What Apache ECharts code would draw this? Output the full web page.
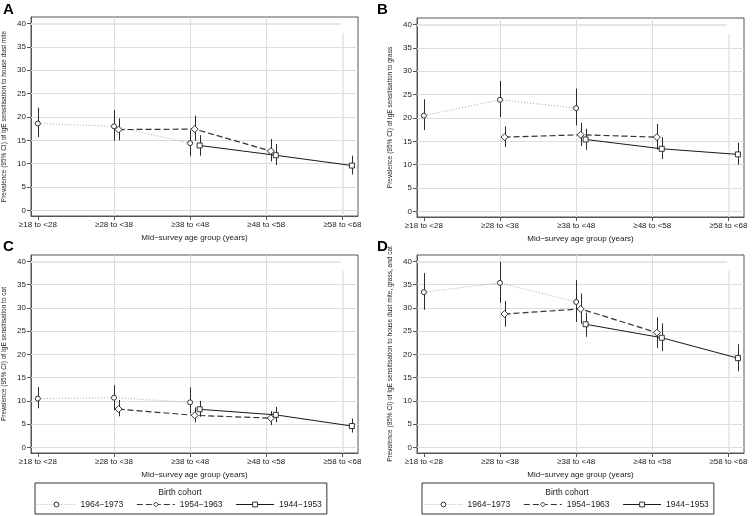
<!DOCTYPE html>
<html>
<head>
<meta charset="utf-8">
<script src="https://cdn.jsdelivr.net/npm/echarts@6/dist/echarts.min.js"></script>
<style>html,body{margin:0;padding:0;background:#fff}#c{width:753px;height:516px}</style>
</head>
<body>
<div id="c"></div>
<script>
// ---- data ----
const ageLabels = ['\u226518 to <28', '\u226528 to <38', '\u226538 to <48', '\u226548 to <58', '\u226558 to <68'];
const ageMid = [23, 33, 43, 53, 63];
const cohorts = ['1964\u22121973', '1954\u22121963', '1944\u22121953'];
// mean ages at which each cohort was plotted
const x1964 = [23, 33, 43];
const x1954 = [33.6, 43.6, 53.6];
const x1944 = [44.25, 54.25, 64.25];
const yTicks = [0, 5, 10, 15, 20, 25, 30, 35, 40];

// A: house dust mite
const hdm1964 = [18.6, 18.0, 14.4], hdm1964Lo = [15.7, 14.9, 11.6], hdm1964Hi = [22.0, 21.5, 17.2];
const hdm1954 = [17.3, 17.4, 12.7], hdm1954Lo = [15.0, 14.9, 10.5], hdm1954Hi = [19.7, 20.3, 15.3];
const hdm1944 = [13.9, 11.8, 9.6],  hdm1944Lo = [11.7, 9.7, 7.7],   hdm1944Hi = [16.1, 14.2, 11.7];
// B: grass
const gr1964 = [20.5, 23.9, 22.1], gr1964Lo = [17.4, 20.2, 18.4], gr1964Hi = [24.0, 27.9, 26.3];
const gr1954 = [15.9, 16.4, 15.9], gr1954Lo = [13.8, 14.0, 13.2], gr1954Hi = [18.2, 19.0, 18.7];
const gr1944 = [15.4, 13.4, 12.2], gr1944Lo = [13.2, 11.2, 10.0], gr1944Hi = [17.7, 15.9, 14.7];
// C: cat
const cat1964 = [10.5, 10.7, 9.7], cat1964Lo = [8.4, 8.0, 7.3], cat1964Hi = [13.0, 13.4, 12.9];
const cat1954 = [8.25, 6.9, 6.3],  cat1954Lo = [6.7, 5.4, 4.8], cat1954Hi = [10.2, 8.6, 7.8];
const cat1944 = [8.2, 7.0, 4.6],   cat1944Lo = [6.6, 5.4, 3.2], cat1944Hi = [10.0, 8.7, 6.2];
// D: any of the three
const any1964 = [33.4, 35.4, 31.3], any1964Lo = [29.6, 31.1, 27.0], any1964Hi = [37.5, 39.9, 36.0];
const any1954 = [28.7, 29.8, 24.7], any1954Lo = [26.0, 26.6, 21.4], any1954Hi = [31.5, 33.1, 28.0];
const any1944 = [26.5, 23.6, 19.2], any1944Lo = [23.8, 20.7, 16.4], any1944Hi = [29.0, 26.7, 22.2];

const yTitles = [
  'Prevalence (95% CI) of IgE sensitisation to house dust mite',
  'Prevalence (95% CI) of IgE sensitisation to grass',
  'Prevalence (95% CI) of IgE sensitisation to cat',
  'Prevalence (95% CI) of IgE sensitisation to house dust mite, grass, and cat'
];
const xTitle = 'Mid\u2212survey age group (years)';
const panelLetters = ['A', 'B', 'C', 'D'];
const legendTitle = 'Birth cohort';

const panels = [
  [[hdm1964, hdm1964Lo, hdm1964Hi], [hdm1954, hdm1954Lo, hdm1954Hi], [hdm1944, hdm1944Lo, hdm1944Hi]],
  [[gr1964, gr1964Lo, gr1964Hi], [gr1954, gr1954Lo, gr1954Hi], [gr1944, gr1944Lo, gr1944Hi]],
  [[cat1964, cat1964Lo, cat1964Hi], [cat1954, cat1954Lo, cat1954Hi], [cat1944, cat1944Lo, cat1944Hi]],
  [[any1964, any1964Lo, any1964Hi], [any1954, any1954Lo, any1954Hi], [any1944, any1944Lo, any1944Hi]]
];
const xs = [x1964, x1954, x1944];

// ---- layout / style ----
const FONT = 'Liberation Sans, Arial, sans-serif';
const xMin = 22.1, xMax = 65.05, yMin = -1.2, yMax = 41.4;
const grids = [
  {left: 29, top: 17, width: 329, height: 199},
  {left: 417, top: 18, width: 327, height: 199},
  {left: 29, top: 255, width: 329, height: 198},
  {left: 417, top: 255, width: 327, height: 198}
];
const styles = [
  {line: {color: '#a8a8a8', width: 1, type: [1, 2]}, symbol: 'circle', size: 5},
  {line: {color: '#333', width: 1.2, type: [6, 3]}, symbol: 'diamond', size: 7},
  {line: {color: '#1a1a1a', width: 1, type: 'solid'}, symbol: 'rect', size: 5}
];

const xAxes = [], yAxes = [], series = [];
grids.forEach((g, gi) => {
  xAxes.push({
    type: 'value', gridIndex: gi, min: xMin, max: xMax,
    name: xTitle, nameLocation: 'middle', nameGap: 18,
    nameTextStyle: {fontSize: 8, color: '#222', fontFamily: FONT},
    axisLine: {show: true, onZero: false, lineStyle: {color: '#555', width: 1}},
    axisTick: {show: true, length: 4, customValues: ageMid, lineStyle: {color: '#555'}},
    axisLabel: {customValues: ageMid, margin: 5, fontSize: 8, color: '#222', fontFamily: FONT,
      formatter: v => ageLabels[ageMid.indexOf(Math.round(v))] || ''},
    splitLine: {show: false}
  });
  yAxes.push({
    type: 'value', gridIndex: gi, min: yMin, max: yMax,
    name: yTitles[gi], nameLocation: 'middle', nameGap: 23,
    nameTextStyle: {fontSize: 6.5, color: '#222', fontFamily: FONT},
    axisLine: {show: true, onZero: false, lineStyle: {color: '#555', width: 1}},
    axisTick: {show: true, length: 4, customValues: yTicks, lineStyle: {color: '#555'}},
    axisLabel: {customValues: yTicks, margin: 5, fontSize: 8, color: '#222', fontFamily: FONT},
    splitLine: {show: false}
  });
  // gridlines
  const ml = [];
  yTicks.forEach(v => {
    if (v === 40) ml.push([{coord: [xMin, v], lineStyle: {width: 2, color: '#e6e6e6'}}, {coord: [62.8, v]}]);
    else ml.push([{coord: [xMin, v]}, {coord: [xMax, v]}]);
  });
  ageMid.slice(1).forEach(v => {
    if (v === 63) ml.push([{coord: [v, yMin], lineStyle: {width: 1.5, color: '#e3e3e3'}}, {coord: [v, 38]}]);
    else ml.push([{coord: [v, yMin]}, {coord: [v, yMax]}]);
  });
  series.push({
    type: 'line', xAxisIndex: gi, yAxisIndex: gi, data: [], silent: true, z: 1,
    markLine: {z: 1, silent: true, symbol: 'none', animation: false, label: {show: false},
      lineStyle: {color: '#dcdcdc', width: 1, type: 'solid'}, data: ml}
  });
  panels[gi].forEach((cs, ci) => {
    const [vals, lo, hi] = cs;
    series.push({
      type: 'custom', name: 'ci' + ci, xAxisIndex: gi, yAxisIndex: gi, z: 3,
      data: xs[ci].map((x, i) => [x, lo[i], hi[i]]),
      encode: {x: 0, y: [1, 2]},
      renderItem: (params, api) => {
        const a = api.coord([api.value(0), api.value(1)]);
        const b = api.coord([api.value(0), api.value(2)]);
        const px = Math.round(a[0]) + 0.5;
        return {type: 'line', shape: {x1: px, y1: a[1], x2: px, y2: b[1]},
          style: {stroke: '#2a2a2a', lineWidth: 1}};
      }
    });
    series.push({
      type: 'line', name: cohorts[ci], xAxisIndex: gi, yAxisIndex: gi, z: 4,
      data: xs[ci].map((x, i) => [x, vals[i]]),
      symbol: styles[ci].symbol, symbolSize: styles[ci].size, showAllSymbol: true,
      lineStyle: styles[ci].line,
      itemStyle: {color: '#fff', borderColor: '#333', borderWidth: 1},
      emphasis: {disabled: true}
    });
  });
});

const legendBase = {
  data: cohorts, top: 483, orient: 'horizontal',
  itemWidth: 38, itemHeight: 6, itemGap: 13,
  padding: [17, 5, 5, 2],
  borderColor: '#333', borderWidth: 1,
  lineStyle: {width: 1},
  itemStyle: {borderWidth: 1},
  textStyle: {fontSize: 8.5, color: '#222', fontFamily: FONT},
  selectedMode: false
};

const chart = echarts.init(document.getElementById('c'), null, {renderer: 'canvas'});
chart.setOption({
  animation: false,
  backgroundColor: '#fff',
  grid: grids.map(g => Object.assign({show: true, borderColor: '#555', borderWidth: 1, backgroundColor: 'transparent'}, g)),
  xAxis: xAxes,
  yAxis: yAxes,
  legend: [Object.assign({left: 35}, legendBase), Object.assign({left: 422}, legendBase)],
  graphic: [
    {type: 'text', left: 3, top: 2, style: {text: panelLetters[0], font: 'bold 15px ' + FONT, fill: '#000'}},
    {type: 'text', left: 377, top: 2, style: {text: panelLetters[1], font: 'bold 15px ' + FONT, fill: '#000'}},
    {type: 'text', left: 3, top: 239, style: {text: panelLetters[2], font: 'bold 15px ' + FONT, fill: '#000'}},
    {type: 'text', left: 377, top: 239, style: {text: panelLetters[3], font: 'bold 15px ' + FONT, fill: '#000'}},
    {type: 'text', x: 180, y: 493, style: {text: legendTitle, font: '8.5px ' + FONT, fill: '#222', textAlign: 'center', textVerticalAlign: 'middle'}},
    {type: 'text', x: 567, y: 493, style: {text: legendTitle, font: '8.5px ' + FONT, fill: '#222', textAlign: 'center', textVerticalAlign: 'middle'}}
  ],
  series: series
});
</script>
</body>
</html>
